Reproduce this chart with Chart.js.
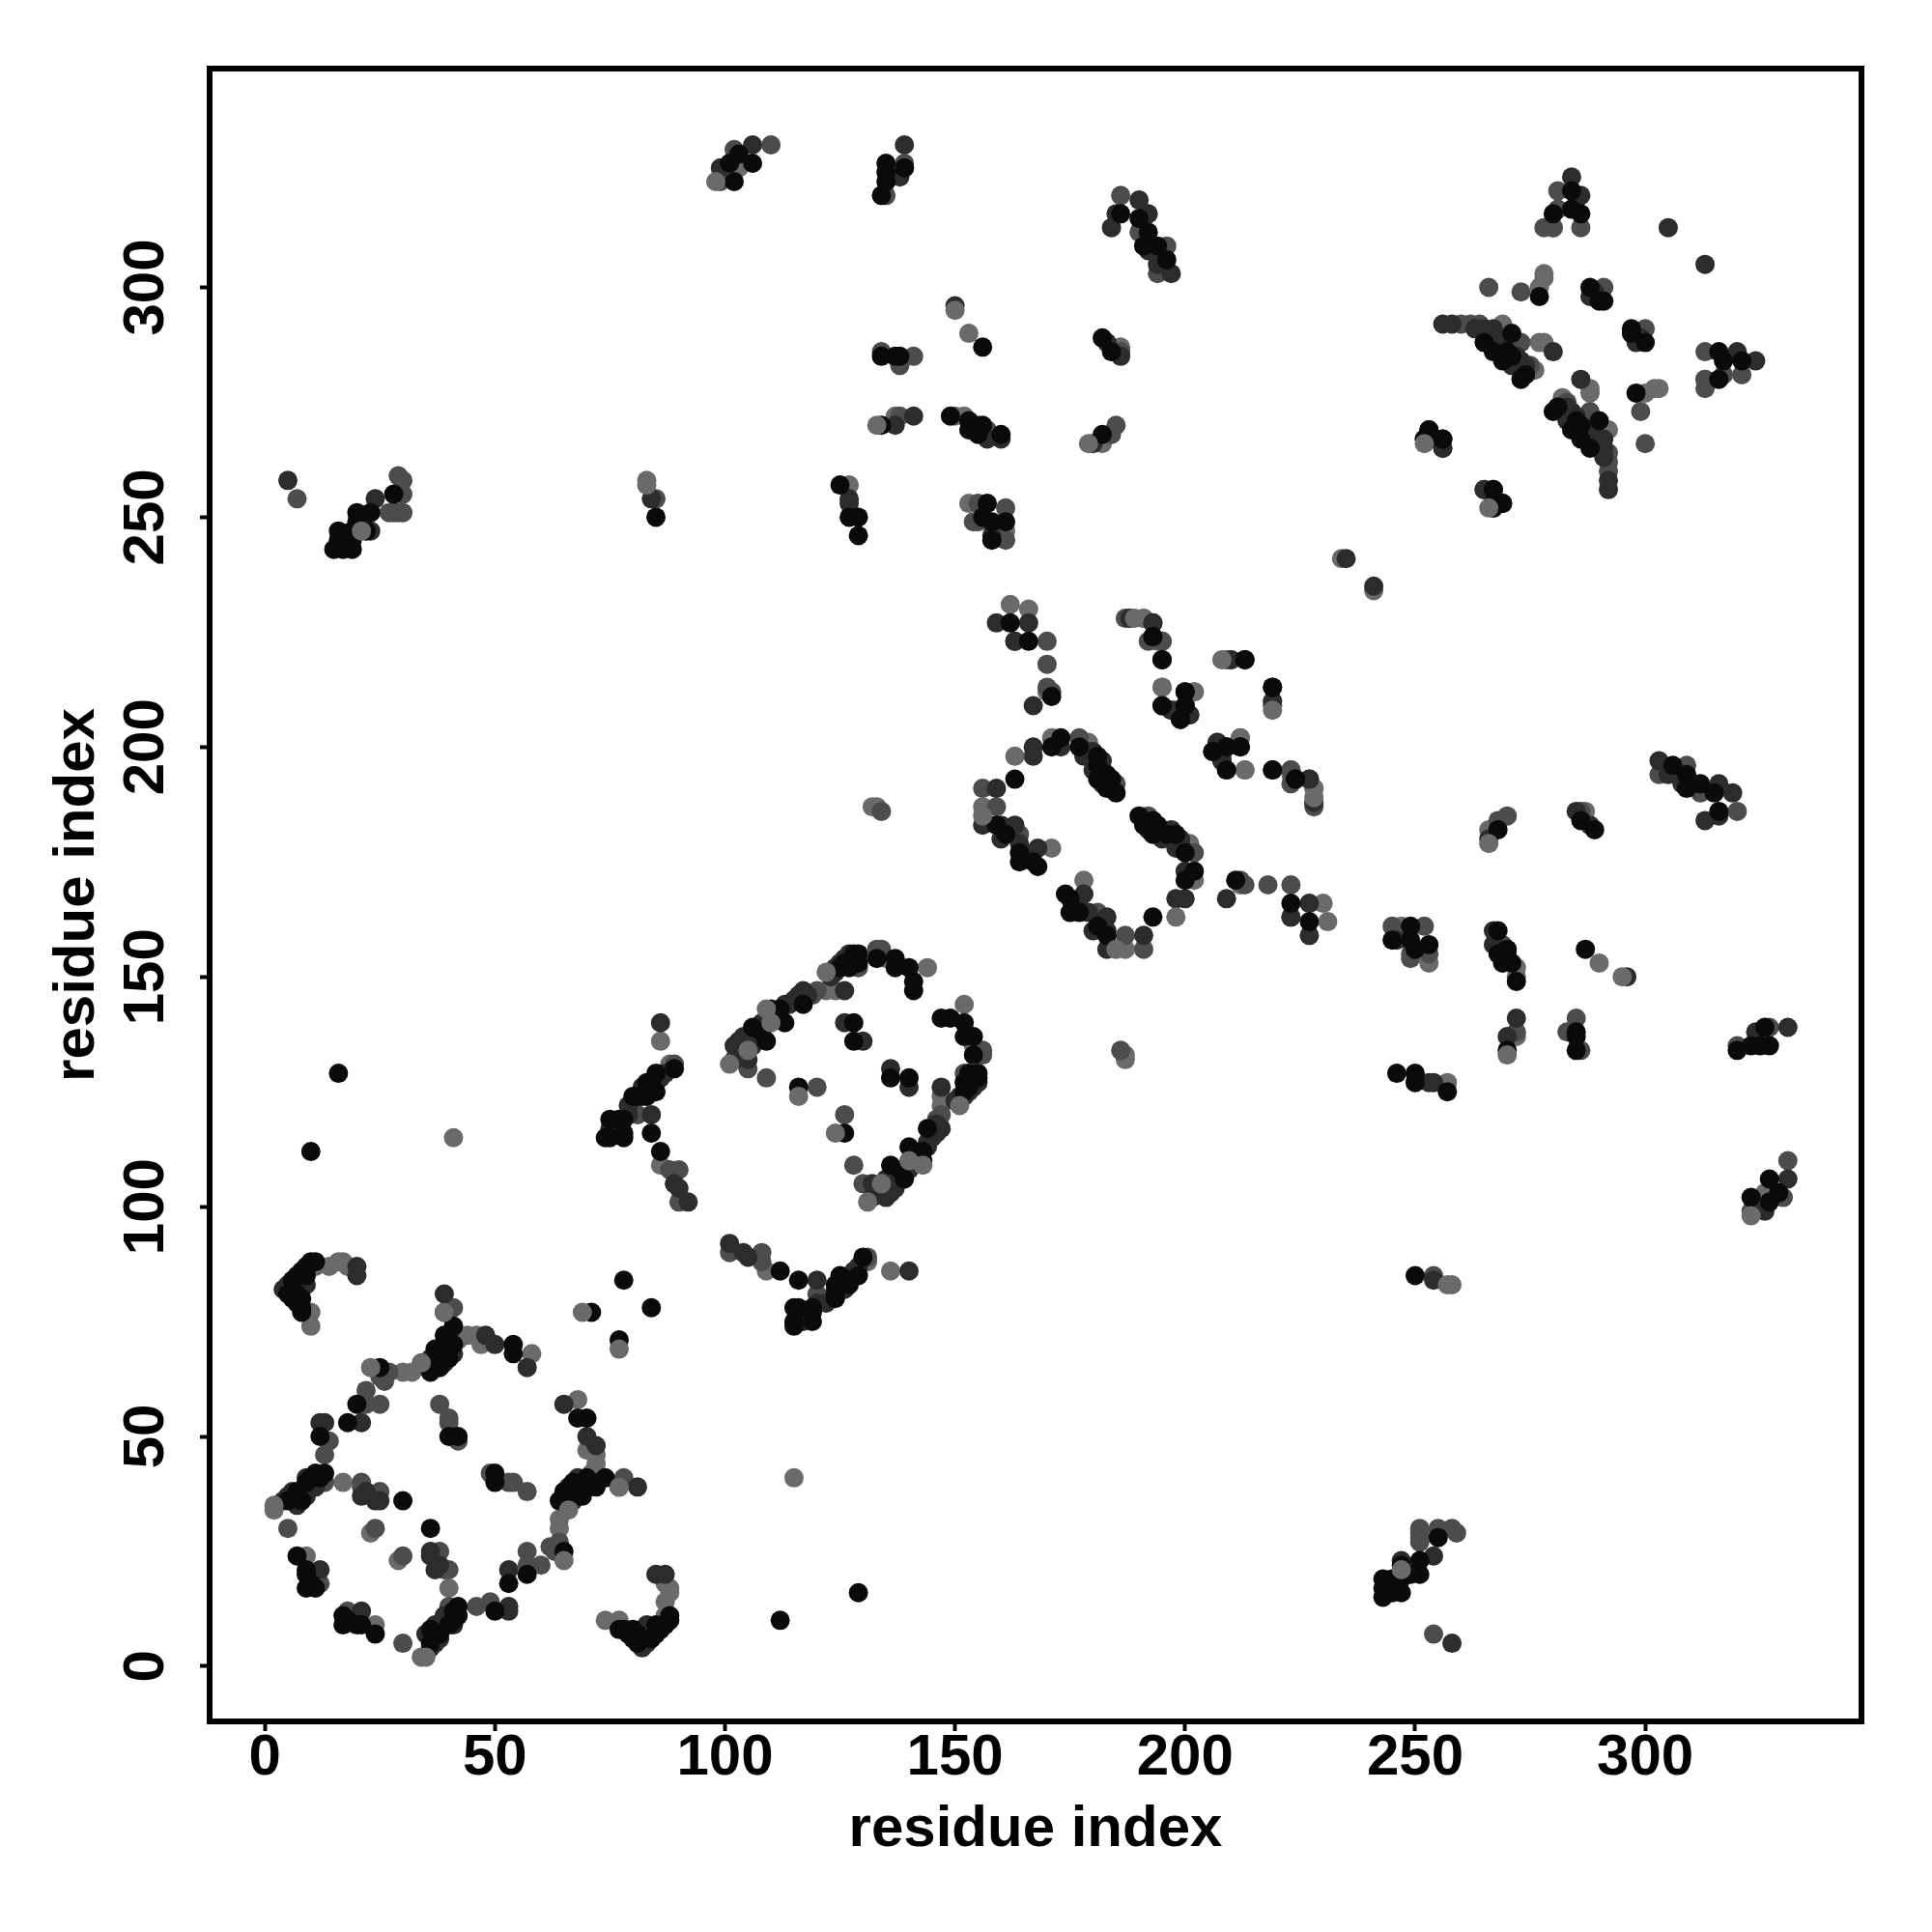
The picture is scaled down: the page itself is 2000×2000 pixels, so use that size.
<!DOCTYPE html>
<html>
<head>
<meta charset="utf-8">
<style>html,body{margin:0;padding:0;background:#fff}canvas{display:block}</style>
<script src="https://cdn.jsdelivr.net/npm/chart.js@4"></script>
</head>
<body>
<canvas id="c" width="2000" height="2000"></canvas>
<script>
// Contact pairs [i, j] with i < j. The map is symmetric: (i,j) also draws (j,i).
const grayUnder = [[2,34],[23,65],[34,66],[69,77],[101,131],[98,323],[105,134],[109,143],[110,140],[116,124],[122,151],[133,270],[179,266],[252,266],[83,257],[21,247],[150,295],[2,35],[163,198],[156,185],[208,219],[189,228],[39,77]];
const blackPairs = [[5,81],[6,80],[7,79],[8,78],[8,77],[6,84],[7,85],[8,86],[9,87],[10,88],[11,88],[8,80],[7,81],[9,85],[12,50],[18,53],[20,57],[25,65],[37,66],[38,67],[39,68],[40,69],[41,70],[41,74],[39,77],[54,70],[54,68],[13,42],[12,41],[11,42],[10,41],[9,40],[7,38],[5,36],[7,24],[9,21],[9,20],[9,17],[10,18],[11,17],[42,50],[40,50],[30,36],[36,64],[38,65],[40,67],[37,69],[39,72],[8,36],[71,77],[78,84],[10,112],[16,129],
[28,255],[23,251],[20,251],[20,249],[22,247],[16,247],[19,247],[15,243],[19,243],[16,245],[19,245],[17,243],[85,250],
[103,329],[106,327],[101,327],[102,323],[135,327],[135,323],[135,325],[139,326],[134,320],[186,316],[190,315],[192,312],[194,309],[191,309],[192,310],[196,306],
[156,287],[134,285],[138,285],[137,285],[134,270],[149,272],[153,271],[153,269],[156,270],[155,268],[160,268],[182,289],[184,286],[182,268],[125,257],[127,250],[129,250],[129,246],[157,253],[158,249],[161,249],[158,245],[156,250],
[89,130],[85,129],[83,127],[85,125],[81,124],[83,124],[78,119],[75,119],[78,116],[78,115],[74,115],[75,115],[84,116],[86,112],[80,124],[84,127],[77,119],
[106,139],[109,136],[110,143],[113,140],[117,144],[125,152],[127,152],[128,155],[129,155],[133,154],[137,154],[137,152],[140,152],[141,149],[141,147],[128,140],[128,136],[116,126],[108,138],[112,143],[126,153],[129,153],
[162,227],[166,223],[171,211],[193,224],[195,219],[213,219],[200,212],[195,209],[200,209],[199,206],[212,200],[206,199],[209,200],[219,213],[219,195],[224,193],[171,200],[173,202],[177,200],[181,198],[181,193],[184,193],[183,191],[185,190],[163,193],[159,183],[164,175],[168,174],[164,177],[167,175],[161,181],[181,196],[183,194],
[284,321],[286,316],[284,317],[280,316],[277,298],[288,300],[291,297],[290,297],[265,288],[271,290],[267,286],[269,284],[271,285],[273,280],[253,269],[256,267],[253,267],[267,256],[267,252],[269,253],[270,286],[274,281]];
const darkPairs = [[4,82],[5,83],[20,87],[20,85],[39,81],[12,53],[13,53],[21,53],[36,65],[37,68],[38,69],[39,70],[40,71],[50,70],[48,72],[57,65],[21,37],[22,38],[24,36],[25,36],[12,21],[8,38],[6,38],[7,37],[5,37],[10,40],[9,41],[6,37],[7,35],[9,37],[11,39],[4,36],[39,66],[41,68],[36,67],[40,72],[8,82],[9,83],
[5,258],[24,254],[23,247],[84,254],[86,140],
[99,326],[106,331],[139,331],[138,324],[190,319],[185,316],[184,313],[192,316],[192,308],[194,305],[197,303],
[150,296],[137,270],[141,272],[157,267],[160,267],[183,288],[186,285],[180,266],[127,254],[127,253],[158,246],
[87,129],[82,126],[84,120],[75,117],[89,105],[90,104],[92,101],[86,128],[83,125],[85,127],[79,120],[77,117],[76,118],[82,124],[84,125],[79,122],
[102,132],[102,135],[105,132],[106,135],[107,137],[111,142],[112,141],[113,144],[116,146],[117,147],[118,146],[126,147],[124,151],[127,154],[126,140],[130,136],[115,145],[103,136],[104,137],[107,139],[108,140],[111,141],[114,144],[116,145],[123,150],[124,152],[125,153],[126,154],[127,155],[128,153],
[159,227],[166,227],[163,223],[167,209],[193,227],[197,208],[201,207],[207,201],[209,195],[208,197],[210,219],[227,193],[228,188],[167,200],[167,198],[173,200],[180,199],[182,197],[159,191],[163,183],[156,183],[160,180],[164,179],[168,178],[235,241],[162,182],[160,183],[166,176],[165,177],[178,198],[179,199],[180,197],[182,195],[180,195],[181,194],[182,192],[184,191],
[284,324],[286,320],[289,299],[288,298],[305,313],[256,292],[258,292],[263,291],[267,291],[265,291],[268,288],[273,284],[274,283],[280,286],[256,265],[265,256],[266,290],[268,289],[269,287],[272,285],[271,283],[272,283]];
const midPairs = [[41,78],[14,49],[13,46],[22,60],[22,57],[25,57],[26,62],[25,63],[27,64],[21,39],[25,38],[21,40],[5,30],[24,30],[12,18],[13,40],[38,57],[40,53],[40,54],[42,49],
[7,254],[29,259],[30,258],[30,255],[29,251],[27,251],[28,251],[30,251],[85,254],
[110,331],[102,330],[99,323],[139,327],[135,320],[186,320],[190,312],[196,309],[194,303],
[134,286],[138,283],[141,285],[138,272],[155,270],[157,269],[185,270],[184,268],[186,286],[155,253],[155,249],[154,249],[161,252],[161,245],
[80,121],[81,120],[88,108],[90,108],[90,101],[89,131],
[105,130],[109,128],[120,147],[119,146],[129,152],[133,156],[134,156],[120,126],[134,186],
[163,223],[170,223],[170,218],[170,213],[171,212],[192,223],[195,223],[198,208],[223,195],[228,187],[177,202],[185,192],[156,191],[159,187],[164,181],
[281,321],[281,317],[286,313],[278,313],[280,313],[266,300],[273,299],[291,300],[260,292],[262,292],[264,292],[273,288],[271,287],[252,267],[270,288],[275,283]];
const grayPairs = [[10,77],[10,74],[11,87],[14,87],[16,88],[17,88],[18,87],[42,71],[44,72],[46,72],[47,71],[47,70],[58,68],[32,64],[30,64],[17,40],[23,29],[9,24],
[41,115],[83,258],[127,257],[102,326],[139,326],[103,326],[153,290],[137,272],[150,272],[152,272],[186,287],[182,266],[153,253],[161,247],
[86,136],[86,109],[88,131],[124,147],[122,147],[135,154],[144,152],[133,187],[132,187],
[162,231],[166,230],[170,212],[191,228],[188,228],[195,213],[202,212],[209,219],[219,210],[219,209],[212,202],[213,195],[228,191],[171,202],[179,201],[156,187],[171,178],[234,241],[223,194],
[278,303],[278,302],[277,300],[276,282],[269,292],[277,288],[278,288],[280,313]];
const tickValues = [0, 50, 100, 150, 200, 250, 300];
const axisMin = -12;
const axisMaxX = 347;
const axisMaxY = 347.6;
const axisLabel = "residue index";

const mirrored = pairs => pairs.flatMap(([i, j]) => [{x: i, y: j}, {x: j, y: i}]);
const layer = (pairs, color) => ({
  data: mirrored(pairs),
  backgroundColor: color,
  borderWidth: 0,
  pointRadius: 10,
  pointHoverRadius: 10
});
const frame = {
  id: "frame",
  afterDraw(chart) {
    const a = chart.chartArea, g = chart.ctx;
    g.save();
    g.strokeStyle = "#000";
    g.lineWidth = 6;
    g.strokeRect(a.left, a.top, a.right - a.left, a.bottom - a.top);
    g.restore();
  }
};
const font = {family: '"Liberation Sans", Arial, sans-serif', size: 60, weight: "bold"};
const axis = (max, extra) => ({
  type: "linear",
  min: axisMin,
  max,
  afterBuildTicks(s) { s.ticks = tickValues.map(v => ({value: v})); },
  grid: {display: true, drawOnChartArea: false, drawTicks: true, tickLength: 10, tickWidth: 4, tickColor: "#000"},
  border: {display: false},
  ...extra
});
new Chart(document.getElementById("c"), {
  type: "scatter",
  data: {datasets: [
    layer(grayUnder, "#6a6a6a"),
    layer(blackPairs, "#0a0a0a"),
    layer(darkPairs, "#2c2c2c"),
    layer(midPairs, "#4c4c4c"),
    layer(grayPairs, "#6a6a6a")
  ]},
  plugins: [frame],
  options: {
    responsive: false,
    animation: false,
    events: [],
    layout: {padding: {top: 71, right: 73, left: 0, bottom: 0}},
    plugins: {legend: {display: false}, tooltip: {enabled: false}, title: {display: false}},
    scales: {
      x: axis(axisMaxX, {
        afterFit(s) { s.height = 218; },
        ticks: {font, color: "#000", padding: -8, maxRotation: 0, minRotation: 0, autoSkip: false},
        title: {display: true, text: axisLabel, font, color: "#000", padding: {top: 0, bottom: 70}}
      }),
      y: axis(axisMaxY, {
        afterFit(s) { s.width = 217; },
        ticks: {font, color: "#000", padding: 4, maxRotation: 90, minRotation: 90, autoSkip: false, crossAlign: "center"},
        title: {display: true, text: axisLabel, font, color: "#000", padding: {top: 44, bottom: 0}}
      })
    }
  }
});
</script>
</body>
</html>
